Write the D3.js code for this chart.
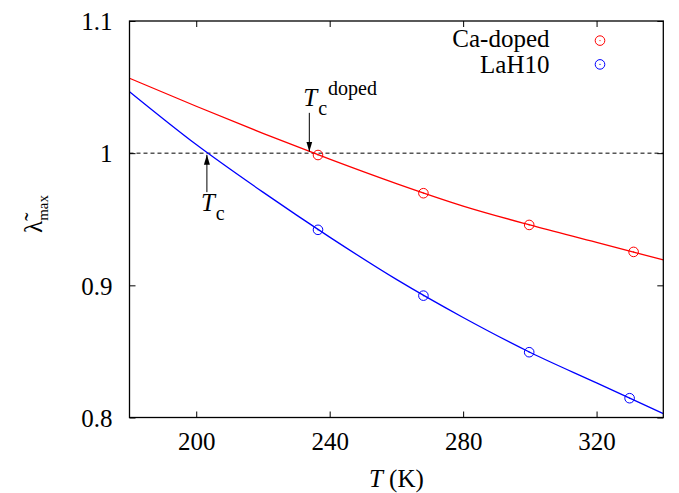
<!DOCTYPE html>
<html>
<head>
<meta charset="utf-8">
<script src="https://cdn.jsdelivr.net/npm/d3@7"></script>
<style>
  html, body { margin: 0; padding: 0; background: #fff; }
  svg { display: block; font-family: "Liberation Serif", "Times New Roman", serif; }
</style>
</head>
<body>
<svg id="chart" width="679" height="493"></svg>
<script>
// Temperature axis ticks (K) and eigenvalue axis ticks
const tempTicks = [200, 240, 280, 320];
const lambdaTicks = [0.8, 0.9, 1.0, 1.1];
const lambdaTickLabels = ["0.8", "0.9", "1", "1.1"];

// Computed eigenvalues (markers)
const dopedT = [236.5, 268.1, 299.8, 331.1];
const dopedLambda = [0.9986, 0.9697, 0.9457, 0.9253];
const lahT = [236.5, 268.1, 299.8, 329.9];
const lahLambda = [0.9420, 0.8922, 0.8494, 0.8146];

// Fitted curves through the eigenvalues
const fitT = [180, 200, 220, 240, 260, 280, 300, 320, 340];
const dopedFit = [1.0567, 1.0355, 1.0150, 0.9955, 0.9770, 0.9600, 0.9457, 0.9325, 0.9192];
const lahFit = [1.0465, 1.0065, 0.9705, 0.9365, 0.9045, 0.8757, 0.8494, 0.8262, 0.8030];

// Series names and colours
const seriesNames = ["Ca-doped", "LaH10"];
const seriesColors = ["#ff0000", "#0000ff"];

// Critical temperature annotations: arrow from (T, from) to (T, to)
const tcDoped = { T: 233.9, from: 1.0305, to: 1.0012 };
const tcLah = { T: 203.2, from: 0.9705, to: 0.9988 };

const serif = "Liberation Serif, Times New Roman, serif";
const svg = d3.select("#chart");
const plotLeft = 129.5, plotRight = 663.3, plotTop = 21, plotBottom = 417.5;

const x = d3.scaleLinear().domain([180, 340]).range([plotLeft, plotRight]);
const y = d3.scaleLinear().domain([0.8, 1.1]).range([plotBottom, plotTop]);

const defs = svg.append("defs");
defs.append("clipPath").attr("id", "plotClip")
  .append("rect").attr("x", plotLeft).attr("y", plotTop)
  .attr("width", plotRight - plotLeft).attr("height", plotBottom - plotTop);
defs.append("marker")
  .attr("id", "arrowHead")
  .attr("viewBox", "0 0 10 10")
  .attr("refX", 10).attr("refY", 5)
  .attr("markerWidth", 10).attr("markerHeight", 10)
  .attr("markerUnits", "userSpaceOnUse")
  .attr("orient", "auto")
  .append("path").attr("d", "M0,2 L10,5 L0,8 Z").attr("fill", "#000");

// Axes with inward ticks on all four sides
const fontSize = 25;
const bottomAxis = svg.append("g")
  .attr("transform", `translate(0,${plotBottom})`)
  .call(d3.axisBottom(x).tickValues(tempTicks).tickSize(-6).tickSizeOuter(0).tickPadding(0));
bottomAxis.attr("font-family", serif);
bottomAxis.selectAll("text")
  .attr("y", 32.5).attr("dy", null)
  .attr("font-size", fontSize).attr("font-family", serif).attr("fill", "#000");

svg.append("g")
  .attr("transform", `translate(0,${plotTop})`)
  .call(d3.axisTop(x).tickValues(tempTicks).tickSize(-6).tickSizeOuter(0).tickFormat(""));

const leftAxis = svg.append("g")
  .attr("transform", `translate(${plotLeft},0)`)
  .call(d3.axisLeft(y).tickValues(lambdaTicks).tickSize(-6).tickSizeOuter(0).tickPadding(0)
    .tickFormat((d, i) => lambdaTickLabels[i]));
leftAxis.attr("font-family", serif);
leftAxis.selectAll("text")
  .attr("x", -17).attr("dy", "0.35em")
  .attr("font-size", fontSize).attr("font-family", serif).attr("fill", "#000");

svg.append("g")
  .attr("transform", `translate(${plotRight},0)`)
  .call(d3.axisRight(y).tickValues(lambdaTicks).tickSize(-6).tickSizeOuter(0).tickFormat(""));

svg.selectAll(".domain").remove();
svg.selectAll(".tick line").attr("stroke", "#000").attr("stroke-width", 1);

// Reference line at lambda = 1
svg.append("line")
  .attr("x1", plotLeft).attr("x2", plotRight)
  .attr("y1", y(1)).attr("y2", y(1))
  .attr("stroke", "#000").attr("stroke-width", 1)
  .attr("stroke-dasharray", "4,3");

// Fit curves
const line = d3.line()
  .x(d => x(d[0])).y(d => y(d[1]))
  .curve(d3.curveMonotoneX);
const plot = svg.append("g").attr("clip-path", "url(#plotClip)");
[dopedFit, lahFit].forEach((vals, i) => {
  plot.append("path")
    .datum(fitT.map((t, k) => [t, vals[k]]))
    .attr("d", line)
    .attr("fill", "none")
    .attr("stroke", seriesColors[i])
    .attr("stroke-width", 1.3);
});

// Markers: open circle with a tiny centre dot
function drawMarker(g, cx, cy, color) {
  g.append("circle").attr("cx", cx).attr("cy", cy).attr("r", 4.8)
    .attr("fill", "none").attr("stroke", color).attr("stroke-width", 1);
  g.append("circle").attr("cx", cx).attr("cy", cy).attr("r", 0.6)
    .attr("fill", color);
}
[[dopedT, dopedLambda], [lahT, lahLambda]].forEach(([ts, ls], i) => {
  const g = svg.append("g");
  ts.forEach((t, k) => drawMarker(g, x(t), y(ls[k]), seriesColors[i]));
});

// Frame
svg.append("rect")
  .attr("x", plotLeft).attr("y", plotTop)
  .attr("width", plotRight - plotLeft).attr("height", plotBottom - plotTop)
  .attr("fill", "none").attr("stroke", "#000").attr("stroke-width", 1.3);

// Tc annotations
function arrow(a) {
  svg.append("line")
    .attr("x1", x(a.T)).attr("x2", x(a.T))
    .attr("y1", y(a.from)).attr("y2", y(a.to))
    .attr("stroke", "#000").attr("stroke-width", 1)
    .attr("marker-end", "url(#arrowHead)");
}
arrow(tcDoped);
arrow(tcLah);

function tcLabel(px, py, sup) {
  const t = svg.append("text")
    .attr("x", px).attr("y", py)
    .attr("font-family", serif)
    .attr("font-size", fontSize).attr("fill", "#000");
  t.append("tspan").attr("font-style", "italic").text("T");
  t.append("tspan").attr("font-size", 20).attr("dy", 9).attr("dx", 1).text("c");
  if (sup) {
    t.append("tspan").attr("font-size", 20).attr("dy", -20).attr("dx", 1).text(sup);
  }
}
tcLabel(x(tcDoped.T) - 6, y(tcDoped.from) - 7, "doped");
tcLabel(x(tcLah.T) - 6, y(tcLah.from) + 19, null);

// Legend
seriesNames.forEach((name, i) => {
  const by = 47 + i * 26.3;
  svg.append("text")
    .attr("x", 549.5).attr("y", by)
    .attr("text-anchor", "end")
    .attr("font-family", serif)
    .attr("font-size", fontSize).attr("fill", "#000")
    .text(name);
  drawMarker(svg, 600, 40.6 + i * 23.8, seriesColors[i]);
});

// Axis titles
const xt = svg.append("text")
  .attr("x", (plotLeft + plotRight) / 2).attr("y", 487)
  .attr("text-anchor", "middle")
  .attr("font-family", serif)
  .attr("font-size", fontSize).attr("fill", "#000");
xt.append("tspan").attr("font-style", "italic").text("T");
xt.append("tspan").text(" (K)");

const yt = svg.append("text")
  .attr("transform", "translate(41.5,214) rotate(-90)")
  .attr("text-anchor", "middle")
  .attr("font-family", serif)
  .attr("font-size", fontSize).attr("fill", "#000");
yt.append("tspan").text("λ\u0303");
yt.append("tspan").attr("font-size", 15).attr("dy", 6.5).text("max");
</script>
</body>
</html>
